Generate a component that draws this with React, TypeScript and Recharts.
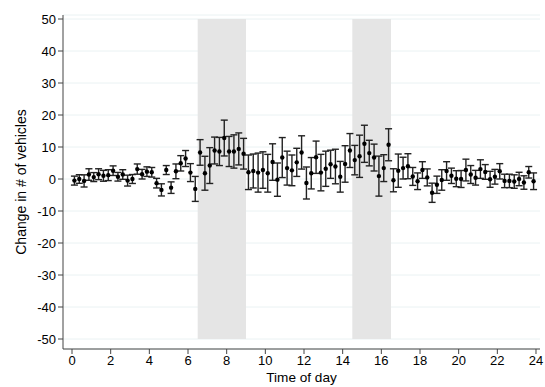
import React from 'react';
import { ComposedChart, Scatter, ErrorBar, XAxis, YAxis, CartesianGrid, ReferenceArea } from 'recharts';

// quarter-hour bins (midpoints)
const times: number[] = Array.from({ length: 96 }, (_, i) => 0.125 + i * 0.25);

const change: number[] = [
  -0.5, 0.0, -0.6, 1.4, 0.6, 1.5, 1.0, 1.2, 2.6, 0.7, 1.4, -0.5, 0.0, 3.1, 1.5, 2.3,
  2.1, -1.3, -3.4, 2.8, -2.7, 2.4, 4.9, 6.4, 2.0, -3.1, 8.3, 1.8, 4.2, 8.9, 8.6, 12.8,
  8.6, 8.6, 9.4, 7.9, 2.1, 2.5, 2.0, 2.8, 1.8, 5.3, -0.2, 6.7, 3.4, 2.7, 5.2, 8.3,
  -1.25, 1.8, 6.8, 2.0, 3.2, 4.6, 3.9, 0.7, 4.7, 8.9, 5.9, 7.1, 11.0, 8.1, 6.7, 0.9,
  3.4, 10.7, -0.4, 2.6, 3.4, 4.0, 0.8, -0.7, 2.8, 0.5, -4.3, -1.8, -0.3, 2.5, 1.0, 0.1,
  0.0, 2.8, 1.4, 0.4, 3.1, 2.2, -0.1, 0.7, 2.4, -0.6, -0.6, -0.8, 0.0, -1.1, 2.1, -0.7,
];

// half-width of the 95% CI
const ci: number[] = [
  1.4, 1.35, 1.9, 1.8, 1.4, 1.7, 1.7, 1.7, 1.5, 1.35, 1.5, 1.7, 1.4, 1.6, 1.5, 1.5,
  1.5, 1.5, 1.9, 1.4, 1.8, 2.3, 2.4, 2.5, 2.8, 3.9, 4.0, 5.3, 5.6, 4.2, 4.4, 5.6,
  4.7, 5.2, 5.0, 4.8, 5.4, 5.3, 6.1, 5.7, 5.9, 5.7, 5.2, 6.25, 5.3, 4.8, 4.4, 5.2,
  5.0, 4.9, 5.05, 5.7, 5.5, 4.4, 5.4, 4.8, 5.7, 5.3, 4.6, 6.6, 5.8, 4.0, 4.2, 6.25,
  4.2, 5.0, 3.6, 5.2, 3.4, 3.9, 2.8, 2.6, 2.6, 2.65, 3.0, 2.7, 3.2, 2.9, 2.4, 2.5,
  2.65, 3.4, 2.8, 2.3, 2.9, 2.3, 2.5, 2.3, 2.4, 2.1, 2.1, 2.1, 2.1, 2.1, 1.8, 2.6,
];

const peaks: [number, number][] = [[6.5, 9], [14.5, 16.5]];
const xTicks = [0, 2, 4, 6, 8, 10, 12, 14, 16, 18, 20, 22, 24];
const yTicks = [-50, -40, -30, -20, -10, 0, 10, 20, 30, 40, 50];

const data = times.map((t, i) => ({ t, value: change[i], err: ci[i] }));

const font = 'Liberation Sans, Arial, sans-serif';

const Dot = (p: any) => <circle cx={p.cx} cy={p.cy} r={2.2} fill="#000" />;

export default function App() {
  return (
    <div style={{ position: 'absolute', left: 0, top: 0, width: 545, height: 387, background: '#fff' }}>
      <ComposedChart width={545} height={387} data={data} margin={{ top: 15, right: 5, left: 0, bottom: 0 }}
        style={{ fontFamily: font }}>
        <CartesianGrid vertical={false} stroke="#eaf2f3" strokeWidth={1} />
        {peaks.map(([a, b]) => (
          <ReferenceArea key={a} x1={a} x2={b} y1={-50} y2={50} fill="#e5e5e5" fillOpacity={1} stroke="none" />
        ))}
        <XAxis dataKey="t" type="number" domain={[-0.466, 24.207]} ticks={xTicks} height={38}
          tick={{ fontSize: 13, fill: '#000' }} tickSize={5} stroke="#444" allowDataOverflow
          label={{ value: 'Time of day', position: 'center', dy: 9, fontSize: 13.6, fill: '#000' }} />
        <YAxis type="number" domain={[-53.125, 51.25]} ticks={yTicks} width={63} interval={0}
          tick={{ fontSize: 13, fill: '#000' }} tickSize={5} stroke="#444" allowDataOverflow
          label={{ value: 'Change in # of vehicles', angle: -90, position: 'center', dx: -10.5, fontSize: 14, fill: '#000' }} />
        <Scatter dataKey="value" shape={Dot} isAnimationActive={false}>
          <ErrorBar dataKey="err" direction="y" width={3.5} stroke="#222" strokeWidth={1.4} />
        </Scatter>
      </ComposedChart>
    </div>
  );
}
